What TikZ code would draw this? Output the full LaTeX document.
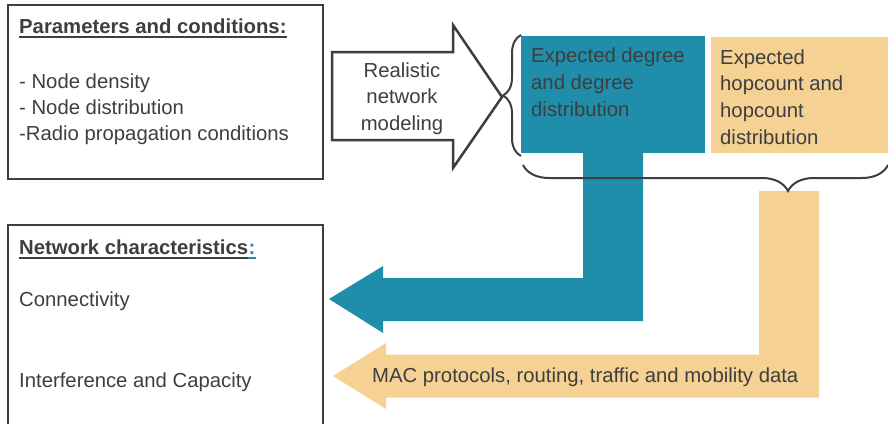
\documentclass[tikz,border=0pt]{standalone}
\usepackage{fontspec}
\setmainfont{Liberation Sans}
\usetikzlibrary{decorations.pathreplacing}
\definecolor{degblue}{RGB}{32,141,171}
\definecolor{hoptan}{RGB}{245,209,148}
\definecolor{inkgray}{RGB}{62,62,62}

\begin{document}
\begin{tikzpicture}[x=1pt,y=-1pt,
	txt/.style={anchor=base west, inner sep=0pt, text=inkgray, align=left, font=\fontsize{20.3}{26.7}\selectfont},
	hdr/.style={txt, font=\fontsize{20.3}{26.7}\selectfont\bfseries},
	box/.style={draw=inkgray, line width=2.5pt},
	uline/.style={line width=2pt},
	brc/.style={draw=inkgray, line width=2pt, decorate}]

\useasboundingbox (0,0) rectangle (888,423);

	\draw [box] (8,5) rectangle (323,179);%parameters box
	\node [hdr] (parhdr) at (19,33) {Parameters and conditions:};
	\draw [uline, inkgray] ([yshift=-4pt]parhdr.base west) -- ([yshift=-4pt]parhdr.base east);
	\foreach \txt [count=\i] in {- Node density, - Node distribution, -Radio propagation conditions}
	\node [txt] (par\i) at (19,61.8+26.2*\i) {\txt};%list of parameters

	\draw [box] (8,426) -- (8,225) -- (323,225) -- (323,426);%network box
	\node [hdr] (nethdr) at (19,254) {Network characteristics};
	\node [hdr, text=degblue] (netcolon) at (nethdr.base east) {:};
	\draw [uline, inkgray] ([yshift=-4pt]nethdr.base west) -- ([yshift=-4pt]nethdr.base east);
	\draw [uline, degblue] ([yshift=-4pt]netcolon.base west) -- ([yshift=-4pt]netcolon.base east);
	\node [txt] (conn) at (19,306) {Connectivity};
	\node [txt] (intf) at (19,387) {Interference and Capacity};

	\draw [draw=inkgray, line width=2.5pt, fill=white] (332,52) -- (453,52) -- (453,25) -- (502,97) -- (453,168) -- (453,140) -- (332,140) -- cycle;%hollow arrow
	\node [txt, anchor=base, align=center] (model) at (402,130.5) {Realistic\\network\\modeling};%base = last line

	\fill [degblue] (521,36) rectangle (705,153);%degree box
	\fill [degblue] (643,153) -- (643,321) -- (383,321) -- (383,333) -- (329,299) -- (383,266) -- (383,278) -- (583,278) -- (583,153) -- cycle;%blue arrow
	\node [txt] (deg) at (531,116) {Expected degree\\and degree\\distribution};

	\fill [hoptan] (711,37) rectangle (890,153);%hopcount box
	\fill [hoptan] (819,191) -- (819,397.5) -- (386,397.5) -- (386,409) -- (333,376) -- (386,343) -- (386,354.5) -- (759,354.5) -- (759,191) -- cycle;%tan arrow
	\node [txt] (hop) at (720,144.3) {Expected\\hopcount and\\hopcount\\distribution};
	\node [txt] (mac) at (372,382) {MAC protocols, routing, traffic and mobility data};

	\draw [brc, decoration={brace, amplitude=18pt}] (521,156) -- (521,35);%left brace
	\draw [brc, decoration={brace, amplitude=26pt, aspect=0.274}] (888,165) -- (523,165);%bottom brace

\end{tikzpicture}
\end{document}
